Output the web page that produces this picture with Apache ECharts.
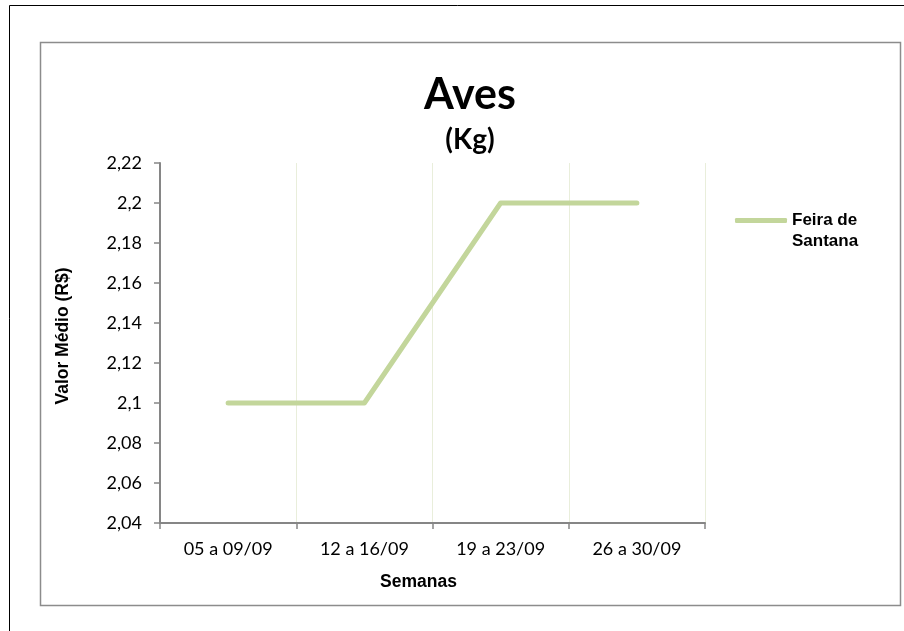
<!DOCTYPE html>
<html>
<head>
<meta charset="utf-8">
<script src="https://cdn.jsdelivr.net/npm/echarts@6/dist/echarts.min.js"></script>
<style>html,body{margin:0;padding:0;background:#fff}#c{width:904px;height:631px}</style>
</head>
<body>
<div id="c"></div>
<script>
const categories = ['05 a 09/09', '12 a 16/09', '19 a 23/09', '26 a 30/09'];
const feiraValues = [2.1, 2.1, 2.2, 2.2];
const seriesName = 'Feira de Santana';
const yMin = 2.04, yMax = 2.22, yStep = 0.02;

const chart = echarts.init(document.getElementById('c'), null, {renderer: 'canvas'});
chart.setOption({
  animation: false,
  backgroundColor: '#fff',
  graphic: [
    {type: 'rect', shape: {x: 9.5, y: 5.5, width: 900, height: 640}, style: {fill: 'none', stroke: '#000', lineWidth: 1}},
    {type: 'rect', shape: {x: 40.5, y: 42.5, width: 860, height: 563}, style: {fill: 'none', stroke: '#8c8c8c', lineWidth: 1.5}}
  ],
  title: [{
    text: 'Aves',
    left: 470, textAlign: 'center', top: 74, padding: 0,
    textStyle: {fontFamily: 'Lato', fontWeight: 'bold', fontSize: 43, color: '#000'}
  }, {
    text: '(Kg)',
    left: 470, textAlign: 'center', top: 126, padding: 0,
    textStyle: {fontFamily: 'Lato', fontWeight: 'bold', fontSize: 28, color: '#000'}
  }],
  legend: {
    left: 735, top: 189, padding: 0,
    icon: 'roundRect',
    itemWidth: 52, itemHeight: 5,
    data: [seriesName],
    formatter: function(n){ return ' \nFeira de\nSantana'; },
    textStyle: {fontFamily: 'Liberation Sans', fontWeight: 'bold', fontSize: 17, color: '#000', lineHeight: 21}
  },
  grid: {left: 160, top: 163, right: 199, bottom: 108, containLabel: false},
  xAxis: {
    type: 'category',
    data: categories,
    boundaryGap: true,
    name: 'Semanas',
    nameLocation: 'middle',
    nameGap: 50,
    nameTextStyle: {fontFamily: 'Liberation Sans', fontWeight: 'bold', fontSize: 17.5, color: '#000', padding: [0,0,0,-28]},
    axisLine: {lineStyle: {color: '#868686', width: 2}},
    axisTick: {show: true, length: 6, lineStyle: {color: '#868686', width: 1.5}},
    axisLabel: {fontFamily: 'Lato', fontSize: 18, color: '#000', margin: 17},
    splitLine: {show: true, lineStyle: {color: '#e9eedb', width: 1}}
  },
  yAxis: {
    type: 'value',
    min: yMin, max: yMax, interval: yStep,
    name: 'Valor Médio (R$)',
    nameLocation: 'middle',
    nameGap: 88,
    nameRotate: 90,
    nameTextStyle: {fontFamily: 'Liberation Sans', fontWeight: 'bold', fontSize: 17.5, color: '#000', padding: [0,0,0,14]},
    axisLine: {show: true, lineStyle: {color: '#868686', width: 2}},
    axisTick: {show: true, length: 6, lineStyle: {color: '#868686', width: 1.5}},
    axisLabel: {fontFamily: 'Lato', fontSize: 18, color: '#000', margin: 18,
      formatter: function(v){ return String(Number(v.toFixed(2))).replace('.', ','); }},
    splitLine: {show: false}
  },
  series: [{
    name: seriesName,
    type: 'line',
    data: feiraValues,
    showSymbol: false,
    symbol: 'none',
    itemStyle: {color: '#c3d69b'},
    lineStyle: {color: '#c3d69b', width: 5, cap: 'round', join: 'round'}
  }]
});
</script>
</body>
</html>
